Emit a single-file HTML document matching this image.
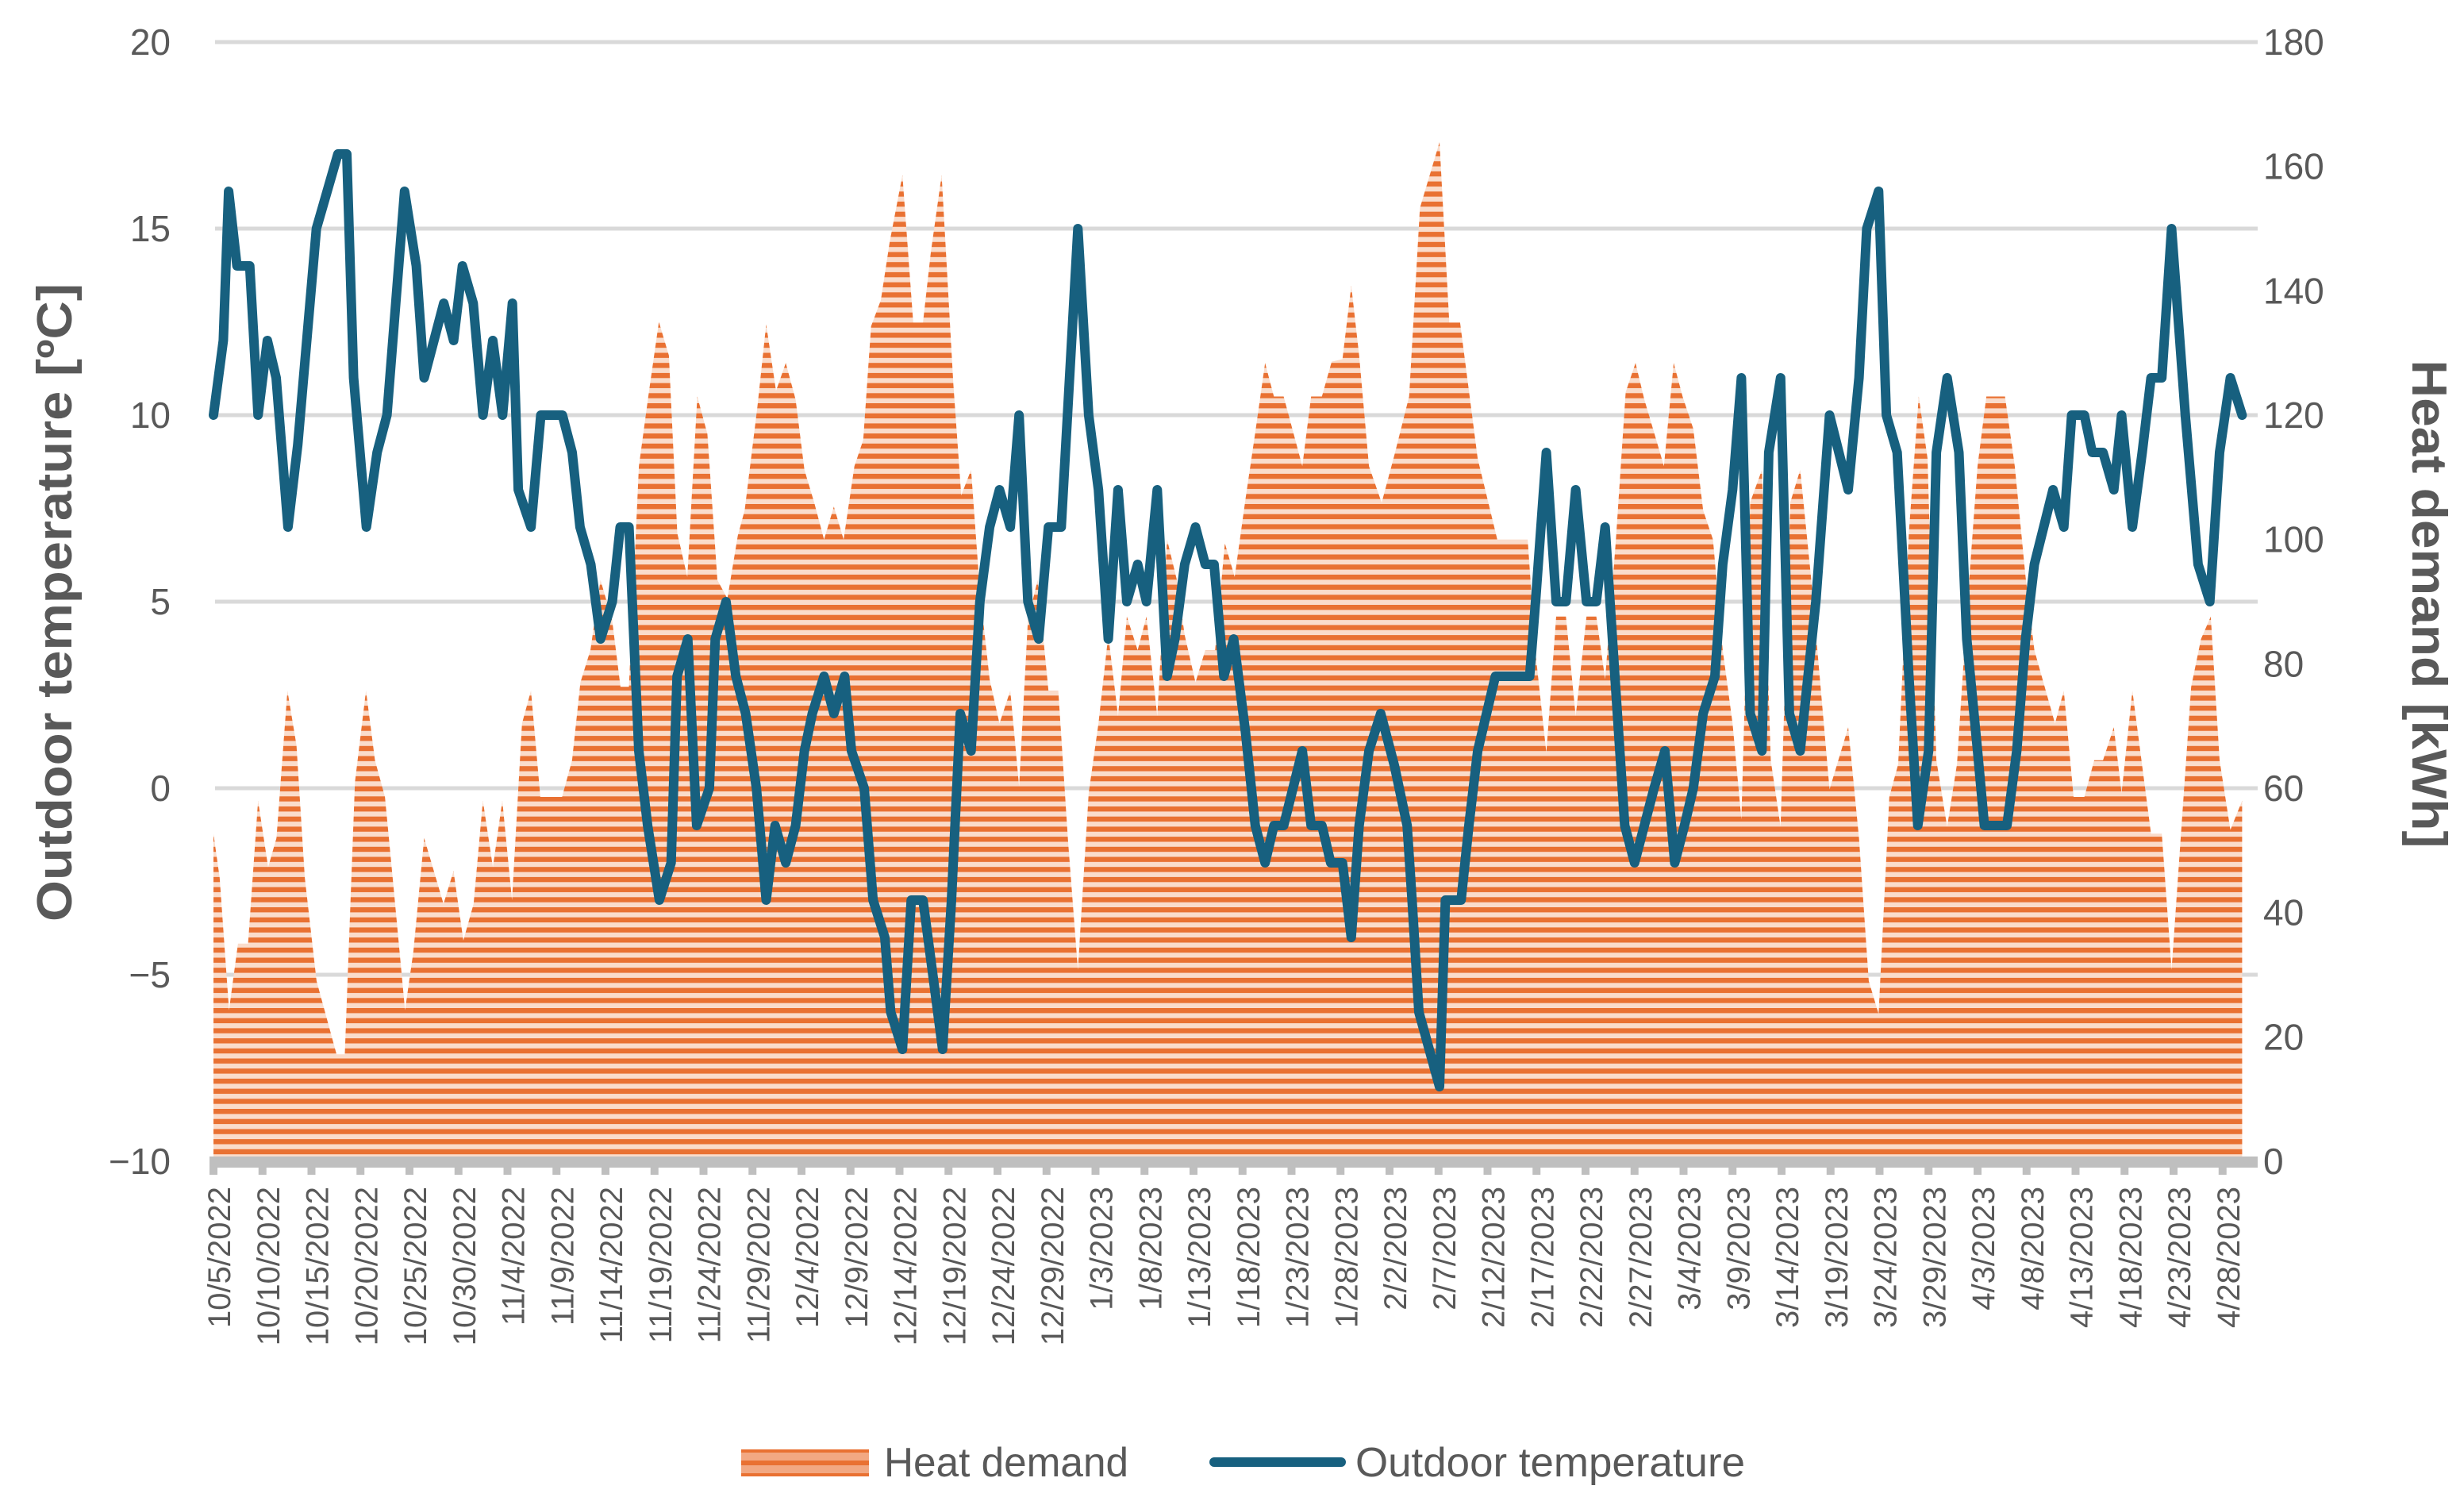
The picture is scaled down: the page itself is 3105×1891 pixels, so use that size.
<!DOCTYPE html>
<html><head><meta charset="utf-8"><style>
html,body{margin:0;padding:0;background:#fff;}
svg{display:block;}
text{font-family:"Liberation Sans",sans-serif;fill:#595959;}
</style></head><body>
<svg id="chart" width="3105" height="1891" viewBox="0 0 3105 1891" xmlns="http://www.w3.org/2000/svg">
<defs>
<pattern id="stripes" patternUnits="userSpaceOnUse" width="20" height="12.7">
<rect x="0" y="0" width="20" height="12.7" fill="#FADCCB"/>
<rect x="0" y="0" width="20" height="6.4" fill="#E97132"/>
</pattern>
<pattern id="stripesLegend" patternUnits="userSpaceOnUse" width="20" height="16">
<rect x="0" y="0" width="20" height="16" fill="#F2A882"/>
<rect x="0" y="0" width="20" height="6" fill="#E97132"/>
</pattern>
</defs>
<g id="grid"></g>
<g id="area"></g>
<g id="axis"></g>
<g id="line"></g>
<g id="ylabels"></g>
<g id="y2labels"></g>
<g id="xlabels"></g>
<text transform="translate(90,759) rotate(-90)" text-anchor="middle" font-size="62" font-weight="bold" textLength="804" lengthAdjust="spacingAndGlyphs">Outdoor  temperature [ºC]</text>
<text transform="translate(3040,761) rotate(90)" text-anchor="middle" font-size="62" font-weight="bold" textLength="615" lengthAdjust="spacingAndGlyphs">Heat demand [kWh]</text>
<g>
<g>
<rect x="934" y="1826" width="161" height="34" fill="url(#stripesLegend)"/>
<text x="1114" y="1860" font-size="52" textLength="308" lengthAdjust="spacingAndGlyphs">Heat demand</text>
</g>
<g>
<line x1="1530" y1="1842" x2="1690" y2="1842" stroke="#17607F" stroke-width="12" stroke-linecap="round"/>
<text x="1708" y="1860" font-size="52" textLength="491" lengthAdjust="spacingAndGlyphs">Outdoor temperature</text>
</g>
</g>
</svg>
<script>
const tempDay=[0,1.0,1.55,2.4,3.7,4.55,5.5,6.4,7.6,8.6,10.5,12.7,13.6,14.3,15.6,16.7,17.7,19.5,20.7,21.5,23.5,24.5,25.4,26.5,27.5,28.5,29.5,30.5,31.1,32.4,33.4,35.6,36.6,37.4,38.5,39.5,40.7,41.5,42.4,43.4,44.3,45.5,46.7,47.3,48.4,49.3,50.6,51.2,52.3,53.3,54.3,55.4,56.4,57.3,58.4,59.4,60.3,61.1,62.3,63.3,64.4,65.1,66.4,67.3,68.5,69.1,70.3,71.2,72.4,73.4,74.4,75.3,76.2,77.3,78.2,79.2,80.2,81.3,82.2,83.1,84.2,85.2,86.5,88.2,89.3,90.3,91.3,92.3,93.2,94.3,95.2,96.3,97.3,98.1,99.1,100.2,101.2,102.1,103.1,104.1,105.3,106.3,107.3,108.2,109.2,111.1,112,113.1,114,115.2,116.1,116.9,117.9,119.1,120.5,121.8,122.3,123,125.1,125.7,126.4,127.3,128.1,129,130.8,134.3,134.9,136,137,138,139,140.1,141.1,142,143,144,145,146,147,148.1,149.1,150.1,151,152,153.2,154,155,155.9,156.8,158,158.7,159.9,160.8,161.9,163.5,164.9,166.8,167.9,168.7,169.9,170.7,171.8,173,173.9,175,175.8,176.9,178.1,178.9,180,180.7,183,184,184.9,185.8,187.7,188.8,189.6,190.9,191.7,192.8,193.9,194.7,195.8,196.8,197.7,198.8,199.8,201.2,202.5,203.7,204.7,205.8,207];
const tempVal=[10,12,16,14,14,10,12,11,7,9.2,15,17,17,11,7,9,10,16,14,11,13,12,14,13,10,12,10,13,8,7,10,10,9,7,6,4,5,7,7,1,-1,-3,-2,3,4,-1,0,4,5,3,2,0,-3,-1,-2,-1,1,2,3,2,3,1,0,-3,-4,-6,-7,-3,-3,-5,-7,-3,2,1,5,7,8,7,10,5,4,7,7,15,10,8,4,8,5,6,5,8,3,4,6,7,6,6,3,4,1.5,-1,-2,-1,-1,1,-1,-1,-2,-2,-4,-1,1,2,0.6,-1,-3,-6,-8,-3,-3,-3,-1,1,3,3,5,9,5,5,8,5,5,7,3,-1,-2,-1,0,1,-2,-1,0,2,3,6,8,11,2,1,9,11,2,1,5,10,8,11,15,16,10,9,3,-1,1,9,11,9,4,1,-1,-1,1,4,6,8,7,10,10,9,9,8,10,7,9,11,11,15,10,6,5,9,11,10];
const heatDay=[0,0.63,1.59,2.5,3.53,4.55,5.58,6.43,7.55,8.47,9.32,10.52,12.56,13.4,14.44,15.56,16.48,17.5,18.36,19.55,20.4,21.5,23.47,24.49,25.5,26.54,27.49,28.51,29.47,30.46,31.48,32.4,33.35,35.57,36.59,37.44,38.46,39.49,40.68,41.53,42.39,43.41,44.43,45.45,46.47,47.33,48.35,49.37,50.4,51.42,52.44,53.5,54.2,55.5,56.4,57.4,58.4,59.4,60.3,61.3,62.3,63.3,64.3,65.4,66.3,67.1,68.1,69,70.3,71.4,72.4,73.2,74.3,75.5,76.3,77.3,78.2,79.2,80.2,81.3,82.2,83.1,84.1,85.2,86.2,87.2,88.2,89.3,90.3,91.3,92.3,93.2,94.3,95.2,96.3,97.3,98.3,99.1,100.2,101.2,102.2,103.2,104.2,105.3,106.3,107.3,108.2,109.2,111.1,112,113.1,114.1,115.2,116.1,116.9,117.9,119.2,120.5,122,123.1,125.1,126.1,127.2,129,131,134.1,134.9,136,137,138,139,140.1,141.1,142,143.1,144.1,145.1,146,147,148,149,149.9,151,152,153,154,155,155.9,156.8,158,158.9,159.9,160.9,161.9,163,164.9,166.8,167.9,168.9,169.9,171,171.9,173,174,174.9,175.8,176.9,177.9,178.9,180,180.9,182.8,183.8,184.9,185.8,187.9,188.8,189.8,190.9,191.9,192.8,193.9,194.7,195.8,197.7,198.8,199.8,201.8,202.8,203.8,204.7,205.8,207];
const heatVal=[52.7,45.6,24.3,35,35,58,47.3,52,75.7,66.9,45.6,29,17.2,17.2,61,75.7,64.5,58.6,44.4,24.3,33.7,52,41.4,46.7,35.5,41.4,58,47.3,58,42,70.4,75.7,58.6,58.6,64.5,77,82.2,93.5,87,76.3,76.3,111.8,123.7,135,129.6,101,94,123,117,93.5,90.5,100.6,104.7,121.3,134.6,123.9,128.4,122.5,111.2,105.9,100,105.3,100,111.8,116,134.3,138.5,147.9,158.6,134.9,134.9,146.2,158.6,124.9,107.1,111.2,91.7,77.5,70.4,75.7,60.3,87,93.5,75.7,75.7,51.5,30.8,59.2,70.4,84.6,71.6,87.6,82.2,87.6,71.6,100,93.5,84.6,77,82.2,82.2,99.4,94,106.5,117.2,128.4,123,123,111.8,123,123,128.6,129,140.8,129.6,111.8,105.9,113.6,123,153.3,163.9,134.9,134.9,113,100,100,81.7,65.7,87.6,87.6,71.6,87.6,87.6,77.5,100,123.7,128.4,122.5,117.2,111.8,128.4,123,117.8,104.7,100,82.2,70.4,55,106,111.2,64.5,53.8,106,111.2,94,59.8,69.8,52,29,23.7,58.6,63.9,101.2,123,113,64.5,53.8,63.9,88.2,111.8,123,123,111.8,94,82.2,70.4,75.7,58.6,58.6,64.5,64.5,69.8,59.2,75.7,52.7,52.7,30.8,76.3,84,87.6,64.5,53.3,58];
const tempTicks=[-10,-5,0,5,10,15,20];
const tempTickLabels=["\u221210","\u22125","0","5","10","15","20"];
const heatTicks=[0,20,40,60,80,100,120,140,160,180];
const dateLabels=["10/5/2022","10/10/2022","10/15/2022","10/20/2022","10/25/2022","10/30/2022","11/4/2022","11/9/2022","11/14/2022","11/19/2022","11/24/2022","11/29/2022","12/4/2022","12/9/2022","12/14/2022","12/19/2022","12/24/2022","12/29/2022","1/3/2023","1/8/2023","1/13/2023","1/18/2023","1/23/2023","1/28/2023","2/2/2023","2/7/2023","2/12/2023","2/17/2023","2/22/2023","2/27/2023","3/4/2023","3/9/2023","3/14/2023","3/19/2023","3/24/2023","3/29/2023","4/3/2023","4/8/2023","4/13/2023","4/18/2023","4/23/2023","4/28/2023"];
const labelStepDays=5;

const NS="http://www.w3.org/2000/svg";
const X0=269, DX=12.35, YTOP=53, YBOT=1463;
function xDay(d){return X0+d*DX;}
function yTemp(t){return YBOT-(t+10)/30*(YBOT-YTOP);}
function yHeat(h){return YBOT-h/180*(YBOT-YTOP);}
function mk(tag,parent){const e=document.createElementNS(NS,tag);parent.appendChild(e);return e;}

const grid=document.getElementById('grid');
tempTicks.forEach(t=>{
  if(t===-10) return;
  const l=mk('line',grid);
  
  
  l.setAttribute('x1',271);l.setAttribute('x2',2845);
  l.setAttribute('y1',yTemp(t));l.setAttribute('y2',yTemp(t));
  l.setAttribute('stroke','#D9D9D9');l.setAttribute('stroke-width',5);
});

const area=document.getElementById('area');
let d='M'+xDay(heatDay[0])+','+YBOT;
heatDay.forEach((dd,i)=>{d+=' L'+xDay(dd).toFixed(1)+','+yHeat(heatVal[i]).toFixed(1);});
d+=' L'+xDay(heatDay[heatDay.length-1])+','+YBOT+' Z';
const ap=mk('path',area);


ap.setAttribute('d',d);ap.setAttribute('fill','url(#stripes)');

const axis=document.getElementById('axis');
const al=mk('line',axis);


al.setAttribute('x1',264);al.setAttribute('x2',2845);al.setAttribute('y1',1464);al.setAttribute('y2',1464);
al.setAttribute('stroke','#BFBFBF');al.setAttribute('stroke-width',14);
const xl=document.getElementById('xlabels');
dateLabels.forEach((lab,k)=>{
  const x=xDay(k*labelStepDays);
  const tk=mk('line',axis);
  
  
  tk.setAttribute('x1',x);tk.setAttribute('x2',x);tk.setAttribute('y1',1458);tk.setAttribute('y2',1480);
  tk.setAttribute('stroke','#BFBFBF');tk.setAttribute('stroke-width',10);
  const t=mk('text',xl);
  
  
  t.setAttribute('transform','translate('+(x+21)+',1495) rotate(-90)');
  t.setAttribute('text-anchor','end');t.setAttribute('font-size',40);
  t.textContent=lab;
});

const line=document.getElementById('line');
const pl=mk('polyline',line);


pl.setAttribute('points',tempDay.map((dd,i)=>xDay(dd).toFixed(1)+','+yTemp(tempVal[i]).toFixed(1)).join(' '));
pl.setAttribute('fill','none');pl.setAttribute('stroke','#17607F');pl.setAttribute('stroke-width',12);
pl.setAttribute('stroke-linejoin','round');pl.setAttribute('stroke-linecap','round');

const yl=document.getElementById('ylabels');
tempTicks.forEach((t,i)=>{
  const e=mk('text',yl);
  
  
  e.setAttribute('x',215);e.setAttribute('y',yTemp(t)+16);
  e.setAttribute('text-anchor','end');e.setAttribute('font-size',46);
  e.textContent=tempTickLabels[i];
});
const y2=document.getElementById('y2labels');
heatTicks.forEach(h=>{
  const e=mk('text',y2);
  
  
  e.setAttribute('x',2852);e.setAttribute('y',yHeat(h)+16);
  e.setAttribute('font-size',46);
  e.textContent=h;
});
</script>
</body></html>
